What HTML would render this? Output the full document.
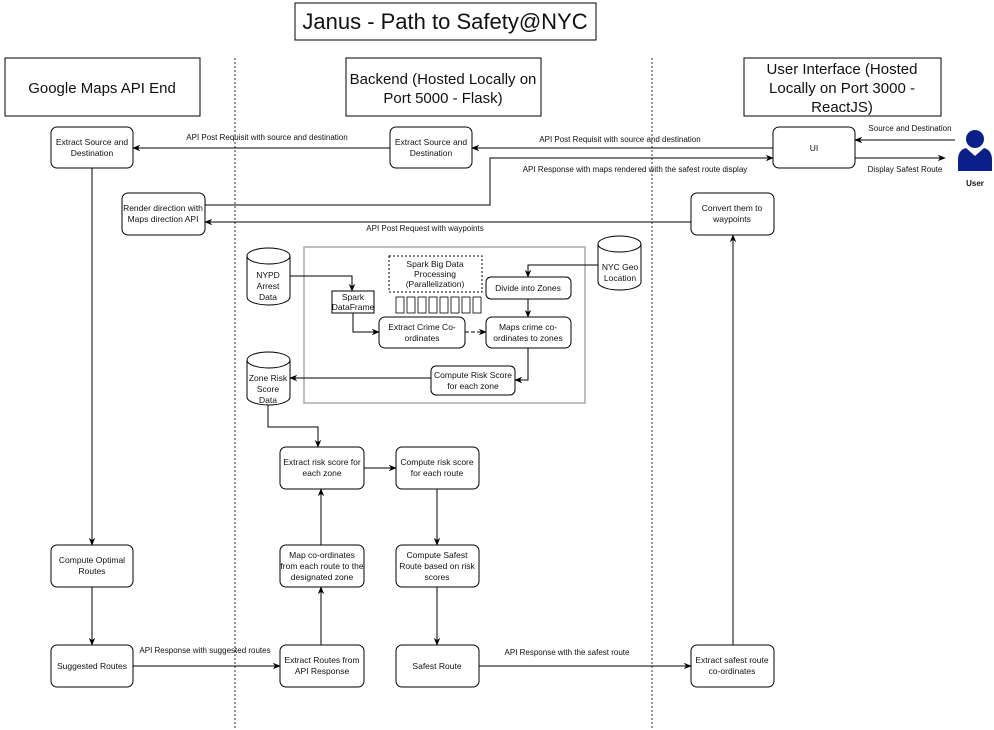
<!DOCTYPE html>
<html><head><meta charset="utf-8"><style>
html,body{margin:0;padding:0;background:#fff}
svg{display:block}
text{font-family:"Liberation Sans",Arial,sans-serif;fill:#111}
.n{font-size:8.5px;text-anchor:middle}
.l{font-size:8px;text-anchor:middle}
.h{font-size:15px;text-anchor:middle}
.b{fill:#fff;stroke:#000;stroke-width:1}
.c{fill:none;stroke:#000;stroke-width:1}
</style></head><body>
<svg width="994" height="730" viewBox="0 0 994 730">
<defs><marker id="a" viewBox="0 0 10 10" refX="9" refY="5" markerWidth="8" markerHeight="8" orient="auto"><path d="M0,1 L10,5 L0,9 L3,5z" fill="#000"/></marker></defs>
<line x1="235" y1="58" x2="235" y2="730" stroke="#000" stroke-dasharray="2,2" stroke-width="0.8"/>
<line x1="652" y1="58" x2="652" y2="730" stroke="#000" stroke-dasharray="2,2" stroke-width="0.8"/>
<rect x="295" y="3" width="301" height="37" class="b" stroke="#999"/>
<text x="445" y="29" style="font-size:22px;text-anchor:middle">Janus - Path to Safety@NYC</text>
<rect x="5" y="58" width="195" height="58" class="b" stroke="#999"/>
<text class="h" x="102" y="93">Google Maps API End</text>
<rect x="346" y="58" width="195" height="58" class="b" stroke="#999"/>
<text class="h" x="443" y="84">Backend (Hosted Locally on</text><text class="h" x="443" y="103">Port 5000 - Flask)</text>
<rect x="744" y="58" width="197" height="58" class="b" stroke="#999"/>
<text class="h" x="842" y="74">User Interface (Hosted</text><text class="h" x="842" y="93">Locally on Port 3000 -</text><text class="h" x="842" y="112">ReactJS)</text>
<rect x="304" y="247" width="281" height="156" fill="none" stroke="#aaa" stroke-width="1.5"/>
<path class="c" d="M390,148 H133" marker-end="url(#a)"/>
<text class="l" x="267" y="140">API Post Requisit with source and destination</text>
<path class="c" d="M773,148 H472" marker-end="url(#a)"/>
<text class="l" x="620" y="142">API Post Requisit with source and destination</text>
<path class="c" d="M205,205 H490 V158 H773" marker-end="url(#a)"/>
<text class="l" x="635" y="172">API Response with maps rendered with the safest route display</text>
<path class="c" d="M691,222 H205" marker-end="url(#a)"/>
<text class="l" x="425" y="231">API Post Request with waypoints</text>
<path class="c" d="M955,140 H855" marker-end="url(#a)"/>
<text class="l" x="910" y="131">Source and Destination</text>
<path class="c" d="M855,158 H945" marker-end="url(#a)"/>
<text class="l" x="905" y="172">Display Safest Route</text>
<path class="c" d="M92,168 V545" marker-end="url(#a)"/>
<path class="c" d="M92,587 V645" marker-end="url(#a)"/>
<path class="c" d="M133,666 H280" marker-end="url(#a)"/>
<text class="l" x="205" y="653">API Response with suggested routes</text>
<path class="c" d="M321,645 V587" marker-end="url(#a)"/>
<path class="c" d="M321,545 V489" marker-end="url(#a)"/>
<path class="c" d="M268,405 V427 H318 V447" marker-end="url(#a)"/>
<path class="c" d="M364,468 H396" marker-end="url(#a)"/>
<path class="c" d="M437,489 V545" marker-end="url(#a)"/>
<path class="c" d="M437,587 V645" marker-end="url(#a)"/>
<path class="c" d="M478,666 H691" marker-end="url(#a)"/>
<text class="l" x="567" y="655">API Response with the safest route</text>
<path class="c" d="M733,645 V235" marker-end="url(#a)"/>
<path class="c" d="M290,276 H352 V291" marker-end="url(#a)" stroke="#555"/>
<path class="c" d="M353,313 V332 H379" marker-end="url(#a)"/>
<path class="c" d="M598,265 H528 V277" marker-end="url(#a)"/>
<path class="c" d="M528,299 V317" marker-end="url(#a)" stroke-width="1.5"/>
<path class="c" d="M465,332 H486" marker-end="url(#a)" stroke-dasharray="4,2" stroke-width="1.5"/>
<path class="c" d="M528,348 V380 H515" marker-end="url(#a)"/>
<path class="c" d="M431,378 H290" marker-end="url(#a)"/>
<g>
<rect class="b" x="51" y="127" width="82" height="41" rx="6"/><text class="n" x="92" y="145">Extract Source and</text><text class="n" x="92" y="156">Destination</text>
<rect class="b" x="390" y="127" width="82" height="41" rx="6"/><text class="n" x="431" y="145">Extract Source and</text><text class="n" x="431" y="156">Destination</text>
<rect class="b" x="773" y="127" width="82" height="41" rx="6"/><text class="n" x="814" y="151">UI</text>
<rect class="b" x="122" y="193" width="83" height="42" rx="6"/><text class="n" x="163" y="211">Render direction with</text><text class="n" x="163" y="222">Maps direction API</text>
<rect class="b" x="691" y="193" width="83" height="42" rx="6"/><text class="n" x="732" y="211">Convert them to</text><text class="n" x="732" y="222">waypoints</text>
<rect class="b" x="51" y="545" width="82" height="42" rx="6"/><text class="n" x="92" y="563">Compute Optimal</text><text class="n" x="92" y="574">Routes</text>
<rect class="b" x="51" y="645" width="82" height="42" rx="6"/><text class="n" x="92" y="669">Suggested Routes</text>
<rect class="b" x="280" y="645" width="84" height="42" rx="6"/><text class="n" x="322" y="663">Extract Routes from</text><text class="n" x="322" y="674">API Response</text>
<rect class="b" x="280" y="545" width="84" height="42" rx="6"/><text class="n" x="322" y="558">Map co-ordinates</text><text class="n" x="322" y="569">from each route to the</text><text class="n" x="322" y="580">designated zone</text>
<rect class="b" x="280" y="447" width="84" height="42" rx="6"/><text class="n" x="322" y="465">Extract risk score for</text><text class="n" x="322" y="476">each zone</text>
<rect class="b" x="396" y="447" width="83" height="42" rx="6"/><text class="n" x="437" y="465">Compute risk score</text><text class="n" x="437" y="476">for each route</text>
<rect class="b" x="396" y="545" width="83" height="42" rx="6"/><text class="n" x="437" y="558">Compute Safest</text><text class="n" x="437" y="569">Route based on risk</text><text class="n" x="437" y="580">scores</text>
<rect class="b" x="396" y="645" width="83" height="42" rx="6"/><text class="n" x="437" y="669">Safest Route</text>
<rect class="b" x="691" y="645" width="83" height="42" rx="6"/><text class="n" x="732" y="663">Extract safest route</text><text class="n" x="732" y="674">co-ordinates</text>
<rect class="b" x="332" y="291" width="42" height="22"/><text class="n" x="353" y="300">Spark</text><text class="n" x="353" y="310">DataFrame</text>
<rect x="389" y="256" width="93" height="36" fill="#fff" stroke="#000" stroke-dasharray="2,2"/><text class="n" x="435" y="267">Spark Big Data</text><text class="n" x="435" y="277">Processing</text><text class="n" x="435" y="287">(Parallelization)</text>
<g fill="none" stroke="#000" stroke-width="0.8">
<rect x="396" y="297" width="8" height="16"/><rect x="407" y="297" width="8" height="16"/><rect x="418" y="297" width="8" height="16"/><rect x="429" y="297" width="8" height="16"/><rect x="440" y="297" width="8" height="16"/><rect x="451" y="297" width="8" height="16"/><rect x="462" y="297" width="8" height="16"/><rect x="473" y="297" width="8" height="16"/>
</g>
<rect class="b" x="486" y="277" width="85" height="22" rx="5"/><text class="n" x="528" y="291">Divide into Zones</text>
<rect class="b" x="379" y="317" width="86" height="31" rx="6"/><text class="n" x="422" y="330">Extract Crime Co-</text><text class="n" x="422" y="341">ordinates</text>
<rect class="b" x="486" y="317" width="85" height="31" rx="6"/><text class="n" x="528" y="330">Maps crime co-</text><text class="n" x="528" y="341">ordinates to zones</text>
<rect class="b" x="431" y="366" width="84" height="29" rx="5"/><text class="n" x="473" y="378">Compute Risk Score</text><text class="n" x="473" y="389">for each zone</text>
<path class="b" d="M247,256 A21.5,8 0 0 1 290,256 V297 A21.5,8 0 0 1 247,297 Z"/><path class="c" d="M247,256 A21.5,8 0 0 0 290,256"/>
<text class="n" x="268" y="278">NYPD</text><text class="n" x="268" y="289">Arrest</text><text class="n" x="268" y="300">Data</text>
<path class="b" d="M247,360 A21.5,8 0 0 1 290,360 V397 A21.5,8 0 0 1 247,397 Z"/><path class="c" d="M247,360 A21.5,8 0 0 0 290,360"/>
<text class="n" x="268" y="381">Zone Risk</text><text class="n" x="268" y="392">Score</text><text class="n" x="268" y="403">Data</text>
<path class="b" d="M598,244 A21.5,8 0 0 1 641,244 V282 A21.5,8 0 0 1 598,282 Z"/><path class="c" d="M598,244 A21.5,8 0 0 0 641,244"/>
<text class="n" x="620" y="270">NYC Geo</text><text class="n" x="620" y="281">Location</text>
</g>
<circle cx="975" cy="139" r="9" fill="#0b1f8a"/>
<path d="M958,171 V160 Q958,150 966,148 L975,156 L984,148 Q992,150 992,160 V171 Z" fill="#0b1f8a"/>
<text x="975" y="186" style="font-size:8px;font-weight:bold;text-anchor:middle">User</text>
</svg>
</body></html>
